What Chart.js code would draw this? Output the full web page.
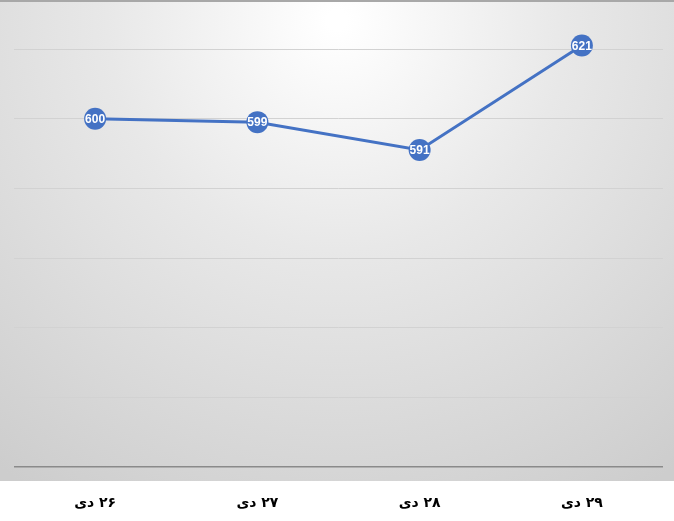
<!DOCTYPE html>
<html>
<head>
<meta charset="utf-8">
<script src="https://cdn.jsdelivr.net/npm/chart.js@4"></script>
<style>
  html, body { margin: 0; padding: 0; background: #fff; }
  #box { width: 674px; height: 521px; }
  #chart { direction: rtl; }
</style>
</head>
<body>
<div id="box"><canvas id="chart" width="674" height="521"></canvas></div>
<script>
const days = ['۲۶ دی', '۲۷ دی', '۲۸ دی', '۲۹ دی'];
const values = [600, 599, 591, 621];
const yMin = 500;
const yMax = 620;
const yStep = 20;

// gray radial backdrop like the excel chart area
const backdrop = {
    id: 'backdrop',
    beforeDraw(chart) {
        const ctx = chart.ctx;
        ctx.save();
        ctx.fillStyle = '#fff';
        ctx.fillRect(0, 0, chart.width, chart.height);
        const g = ctx.createRadialGradient(337, 20, 10, 337, 20, 560);
        g.addColorStop(0, '#ffffff');
        g.addColorStop(0.4, '#e8e8e8');
        g.addColorStop(1, '#cdcdcd');
        ctx.fillStyle = g;
        ctx.fillRect(0, 0, chart.width, 481);
        ctx.fillStyle = '#a8a8a8';
        ctx.fillRect(0, 0, chart.width, 2);
        ctx.restore();
    }
};

// white value text inside each marker
const pointLabels = {
    id: 'pointLabels',
    afterDatasetsDraw(chart) {
        const ctx = chart.ctx;
        const meta = chart.getDatasetMeta(0);
        ctx.save();
        ctx.direction = 'ltr';
        ctx.fillStyle = '#fff';
        ctx.font = 'bold 12px "Liberation Sans Narrow", "Liberation Sans", sans-serif';
        ctx.textAlign = 'center';
        ctx.textBaseline = 'middle';
        meta.data.forEach((pt, i) => {
            ctx.fillText(values[i], pt.x, pt.y + 1);
        });
        ctx.restore();
    }
};

new Chart(document.getElementById('chart'), {
    type: 'line',
    data: {
        labels: days,
        datasets: [{
            data: values,
            borderColor: '#4472c4',
            backgroundColor: '#4472c4',
            borderWidth: 3,
            pointRadius: 11,
            pointHoverRadius: 11,
            pointBorderWidth: 0,
            tension: 0,
            clip: false
        }]
    },
    options: {
        responsive: false,
        animation: false,
        events: [],
        layout: { padding: { top: 49, right: 8, left: 0, bottom: 0 } },
        plugins: { legend: { display: false }, tooltip: { enabled: false } },
        scales: {
            x: {
                offset: true,
                grid: { display: false, drawTicks: false },
                border: { display: false },
                ticks: {
                    color: '#000',
                    padding: 28,
                    font: { family: '"DejaVu Sans", sans-serif', size: 14, weight: 'bold' }
                },
                afterFit(axis) { axis.height = 54; }
            },
            y: {
                min: yMin,
                max: yMax,
                ticks: { display: false, stepSize: yStep },
                border: { display: false },
                grid: {
                    drawTicks: false,
                    lineWidth: c => c.tick.value === yMin ? 1.5 : 1,
                    color: c => c.tick.value === yMin ? '#8a8a8a' : '#d2d2d2'
                },
                afterFit(axis) { axis.width = 14; }
            }
        }
    },
    plugins: [backdrop, pointLabels]
});
</script>
</body>
</html>
